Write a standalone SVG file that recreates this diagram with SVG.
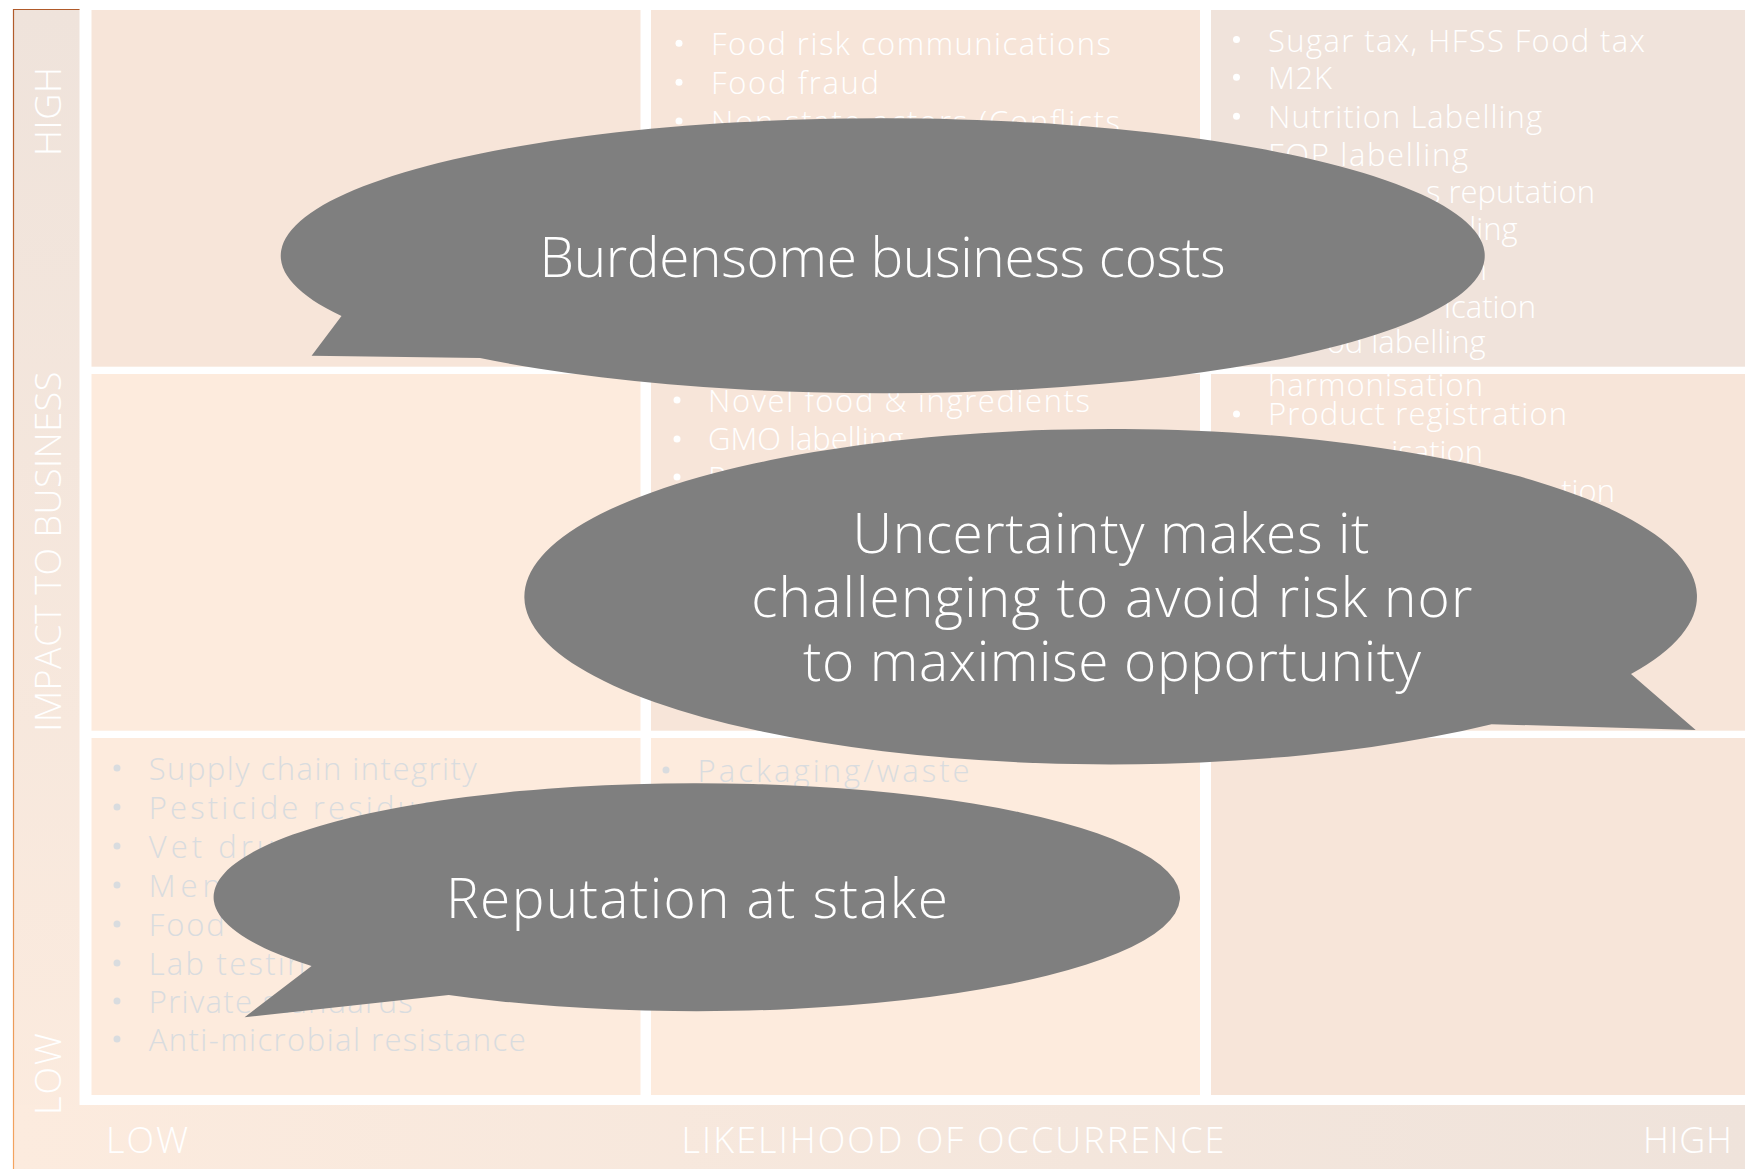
<svg xmlns="http://www.w3.org/2000/svg" width="1745" height="1169" viewBox="0 0 1745 1169">
<style>
  text { font-family: "Open Sans", "Liberation Sans", sans-serif; font-weight: 300; }
  .cell { fill: #FFFFFF; font-size: 31px; }
  .grey { fill: #D9DCDF; font-size: 31px; }
  .axis { fill: #FFFFFF; font-size: 36px; }
  .big { fill: #FFFFFF; font-size: 55px; text-anchor: middle; }
  .bubble { fill: #7F7F7F; }
  .dotw { fill: #FFFFFF; }
  .dotg { fill: #D9DCDF; }
  .end { text-anchor: end; }
</style>
<defs>
  <linearGradient id="gLeft" gradientUnits="userSpaceOnUse" x1="0" y1="9" x2="0" y2="1169">
    <stop offset="0" stop-color="#EFE3DB"/>
    <stop offset="1" stop-color="#FCEBDE"/>
  </linearGradient>
  <linearGradient id="gBottom" gradientUnits="userSpaceOnUse" x1="13" y1="0" x2="1745" y2="0">
    <stop offset="0" stop-color="#FCEBDE"/>
    <stop offset="1" stop-color="#EFE3DB"/>
  </linearGradient>
  <linearGradient id="gLine" gradientUnits="userSpaceOnUse" x1="0" y1="9" x2="0" y2="1169">
    <stop offset="0" stop-color="#B05A2A"/>
    <stop offset="1" stop-color="#F4A460"/>
  </linearGradient>
</defs>
<rect width="1745" height="1169" fill="#FFFFFF"/>

<g id="axes">
  <rect x="13" y="9" width="66.5" height="1160" fill="url(#gLeft)"/>
  <rect x="13" y="1105" width="1732" height="64" fill="url(#gBottom)"/>
  <path d="M79.5,9.5 H13.5 V1169" fill="none" stroke="url(#gLine)" stroke-width="1.2"/>
  <text class="axis" text-anchor="middle" textLength="89" transform="translate(61,111.5) rotate(-90)">HIGH</text>
  <text class="axis" text-anchor="middle" textLength="360" transform="translate(61,551.7) rotate(-90)">IMPACT TO BUSINESS</text>
  <text class="axis" text-anchor="middle" textLength="82" transform="translate(61,1074) rotate(-90)">LOW</text>
  <text class="axis" x="106" y="1152.7" textLength="82">LOW</text>
  <text class="axis" x="681.5" y="1152.7" textLength="543">LIKELIHOOD OF OCCURRENCE</text>
  <text class="axis" x="1643" y="1152.7" textLength="89">HIGH</text>
</g>

<g id="grid">
  <rect x="91.5" y="10" width="549" height="356.7" fill="#F7E5D9"/>
  <rect x="651" y="10" width="549" height="356.7" fill="#F7E5D9"/>
  <rect x="1211" y="10" width="534" height="356.7" fill="#F0E3DB"/>
  <rect x="91.5" y="374" width="549" height="356.7" fill="#FDEBDD"/>
  <rect x="651" y="374" width="549" height="356.7" fill="#F7E5D9"/>
  <rect x="1211" y="374" width="534" height="356.7" fill="#F7E5D9"/>
  <rect x="91.5" y="738" width="549" height="357" fill="#FDEBDD"/>
  <rect x="651" y="738" width="549" height="357" fill="#FDEBDD"/>
  <rect x="1211" y="738" width="534" height="357" fill="#F7E5D9"/>
</g>

<g id="cell-high-medium">
  <circle class="dotw" cx="679" cy="43.3" r="3.5"/>
  <circle class="dotw" cx="679" cy="82.3" r="3.5"/>
  <circle class="dotw" cx="679" cy="121" r="3.5"/>
  <text class="cell" x="711" y="55" textLength="400">Food risk communications</text>
  <text class="cell" x="711" y="94.3" textLength="168">Food fraud</text>
  <text class="cell" x="711" y="133" textLength="409">Non state actors (Conflicts</text>
</g>

<g id="cell-medium-medium">
  <circle class="dotw" cx="677" cy="400" r="3.5"/>
  <circle class="dotw" cx="677" cy="439" r="3.5"/>
  <circle class="dotw" cx="677" cy="477" r="3.5"/>
  <text class="cell" x="708" y="411.7" textLength="382">Novel food &amp; ingredients</text>
  <text class="cell" x="708" y="450">GMO labelling</text>
  <text class="cell" x="708" y="489">P</text>
</g>

<g id="cell-high-high">
  <circle class="dotw" cx="1236.5" cy="39.5" r="3.5"/>
  <circle class="dotw" cx="1236.5" cy="77.3" r="3.5"/>
  <circle class="dotw" cx="1236.5" cy="116.3" r="3.5"/>
  <text class="cell" x="1268" y="51.7" textLength="377">Sugar tax, HFSS Food tax</text>
  <text class="cell" x="1268" y="89.3" textLength="64">M2K</text>
  <text class="cell" x="1268" y="128.3" textLength="274">Nutrition Labelling</text>
  <text class="cell" x="1268" y="166" textLength="200">FOP labelling</text>
  <text class="cell end" x="1595" y="203">s reputation</text>
  <text class="cell end" x="1517.7" y="240">ling</text>
  <text class="cell end" x="1487" y="280">n</text>
  <text class="cell end" x="1536" y="318">ication</text>
  <text class="cell end" x="1485.7" y="353">od labelling</text>
  <text class="cell" x="1268" y="396" textLength="215">harmonisation</text>
</g>

<g id="cell-medium-high">
  <circle class="dotw" cx="1236.5" cy="414" r="3.5"/>
  <text class="cell" x="1268" y="425" textLength="299">Product registration</text>
  <text class="cell end" x="1483" y="463">isation</text>
  <text class="cell end" x="1615" y="501.7">tion</text>
</g>

<g id="cell-low-low">
  <circle class="dotg" cx="117" cy="768" r="3.5"/>
  <circle class="dotg" cx="117" cy="807" r="3.5"/>
  <circle class="dotg" cx="117" cy="846" r="3.5"/>
  <circle class="dotg" cx="117" cy="885" r="3.5"/>
  <circle class="dotg" cx="117" cy="924" r="3.5"/>
  <circle class="dotg" cx="117" cy="963" r="3.5"/>
  <circle class="dotg" cx="117" cy="1001" r="3.5"/>
  <circle class="dotg" cx="117" cy="1039" r="3.5"/>
  <text class="grey" x="148.7" y="780" textLength="328">Supply chain integrity</text>
  <text class="grey" x="148.7" y="819" textLength="305">Pesticide residues</text>
  <text class="grey" x="148.7" y="858" textLength="165">Vet drugs</text>
  <text class="grey" x="148.7" y="897" textLength="72">Men</text>
  <text class="grey" x="148.7" y="936" textLength="76">Food</text>
  <text class="grey" x="148.7" y="975" textLength="175">Lab testing</text>
  <text class="grey" x="148.7" y="1013" textLength="264">Private standards</text>
  <text class="grey" x="148.7" y="1051" textLength="377">Anti-microbial resistance</text>
</g>

<g id="cell-low-medium">
  <circle class="dotg" cx="666" cy="770" r="3.5"/>
  <text class="grey" x="697.6" y="781.7" textLength="272">Packaging/waste</text>
</g>

<g id="bubble-costs">
  <path class="bubble" d="M341.5,316 A602,137.5 0 1 1 480,358 L311.6,355.7 Z"/>
  <text class="big" x="882.5" y="277" textLength="686">Burdensome business costs</text>
</g>

<g id="bubble-uncertainty">
  <path class="bubble" d="M1491.6,724.2 A586.3,167.7 0 1 1 1631,674 L1695.7,730 Z"/>
  <text class="big" x="1111" y="553" textLength="517">Uncertainty makes it</text>
  <text class="big" x="1111.8" y="617" textLength="721">challenging to avoid risk nor</text>
  <text class="big" x="1112" y="681" textLength="618">to maximise opportunity</text>
</g>

<g id="bubble-reputation">
  <path class="bubble" d="M311.6,966 A483.2,114 0 1 1 448.7,995 L244.6,1017.3 Z"/>
  <text class="big" x="697" y="918" textLength="502">Reputation at stake</text>
</g>

<g id="connectors"></g>
</svg>
